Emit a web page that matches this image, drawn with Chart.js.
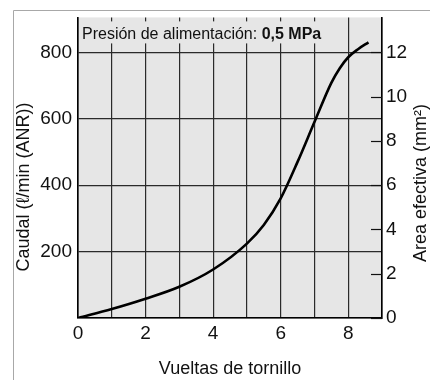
<!DOCTYPE html>
<html>
<head>
<meta charset="utf-8">
<script src="https://cdn.jsdelivr.net/npm/chart.js@4/dist/chart.umd.min.js"></script>
<style>
  html, body { margin: 0; padding: 0; background: #fff; }
  #wrap { width: 430px; height: 380px; position: relative; }
</style>
</head>
<body>
<div id="wrap"><canvas id="myChart"></canvas></div>
<script>
// Screw turns vs flow
const turns = [0, 1, 2, 3, 4, 5, 5.5, 6, 6.5, 7, 7.5, 7.75, 8, 8.3, 8.6]
const flow = [0, 27, 58, 94, 146, 224, 280, 360, 470, 590, 708, 752, 785, 810, 830]

const xMax = 9
const yMax = 905
// right axis: 12 mm2 lines up with 800 l/min
const areaPerFlow = 12 / 800

const xTitle = 'Vueltas de tornillo'
const yTitle = 'Caudal (ℓ/min (ANR))'
const y2Title = 'Area efectiva (mm²)'
const noteText = 'Presión de alimentación: '
const noteBold = '0,5 MPa'

const fontFamily = '"Liberation Sans", Arial, Helvetica, sans-serif'
const plotBg = '#e6e6e6'
const gridColor = '#2a2a2a'
const inkColor = '#111'

const points = turns.map((t, i) => ({ x: t, y: flow[i] }))

const decoPlugin = {
  id: 'deco',
  beforeDraw(chart) {
    const { ctx, chartArea: a } = chart
    ctx.save()
    ctx.fillStyle = plotBg
    ctx.fillRect(a.left, a.top, a.right - a.left, a.bottom - a.top)
    ctx.restore()
  },
  afterDatasetsDraw(chart) {
    const { ctx, chartArea: a, scales } = chart
    ctx.save()
    // note box over the grid
    ctx.fillStyle = plotBg
    ctx.fillRect(a.left + 1, a.top + 4, 246, 22)
    ctx.fillStyle = inkColor
    ctx.textBaseline = 'alphabetic'
    ctx.font = '16px ' + fontFamily
    ctx.fillText(noteText, a.left + 4, a.top + 22)
    const w = ctx.measureText(noteText).width
    ctx.font = 'bold 16px ' + fontFamily
    ctx.fillText(noteBold, a.left + 4 + w, a.top + 22)

    // inward ticks of the right axis
    const y2 = scales.y2
    ctx.strokeStyle = inkColor
    ctx.lineWidth = 1.2
    y2.ticks.forEach(t => {
      const py = Math.round(y2.getPixelForValue(t.value)) + 0.5
      ctx.beginPath()
      ctx.moveTo(a.right - 11, py)
      ctx.lineTo(a.right, py)
      ctx.stroke()
    })

    // vertical axis titles
    ctx.font = '18px ' + fontFamily
    ctx.textAlign = 'center'
    ctx.textBaseline = 'middle'
    ctx.save()
    ctx.translate(24, 187)
    ctx.rotate(-Math.PI / 2)
    ctx.fillText(yTitle, 0, 0)
    ctx.restore()
    ctx.save()
    ctx.translate(421, 183)
    ctx.rotate(-Math.PI / 2)
    ctx.fillText(y2Title, 0, 0)
    ctx.restore()

    // outer frame
    ctx.strokeStyle = '#a8a8a8'
    ctx.lineWidth = 1
    ctx.beginPath()
    ctx.moveTo(430, 10.5)
    ctx.lineTo(13.5, 10.5)
    ctx.lineTo(13.5, 380)
    ctx.stroke()
    ctx.restore()
  }
}

const ctx = document.getElementById('myChart').getContext('2d')
const myChart = new Chart(ctx, {
  type: 'line',
  data: {
    datasets: [{
      data: points,
      borderColor: '#000',
      borderWidth: 2.6,
      pointRadius: 0,
      fill: false,
      cubicInterpolationMode: 'monotone',
      yAxisID: 'y'
    }]
  },
  options: {
    responsive: true,
    maintainAspectRatio: false,
    animation: false,
    layout: { padding: { top: 10, left: 0, right: 0, bottom: 0 } },
    plugins: {
      legend: { display: false },
      tooltip: { enabled: false }
    },
    scales: {
      x: {
        type: 'linear',
        min: 0,
        max: xMax,
        afterFit: (s) => { s.height = 62 },
        ticks: {
          stepSize: 1,
          autoSkip: false,
          maxRotation: 0,
          padding: 4,
          color: inkColor,
          font: { family: fontFamily, size: 19 },
          callback: (v) => (v % 2 === 0 ? String(v) : '')
        },
        grid: { color: gridColor, lineWidth: 1.2, drawTicks: false },
        border: { color: '#000', width: 1.6 },
        title: {
          display: true,
          text: xTitle,
          color: inkColor,
          font: { family: fontFamily, size: 18 },
          padding: { top: 4, bottom: 0 }
        }
      },
      y: {
        type: 'linear',
        position: 'left',
        min: 0,
        max: yMax,
        afterFit: (s) => { s.width = 78 },
        ticks: {
          stepSize: 200,
          includeBounds: false,
          padding: 6,
          color: inkColor,
          font: { family: fontFamily, size: 19 },
          callback: (v) => (v === 0 ? '' : String(v))
        },
        grid: { color: gridColor, lineWidth: 1.2, drawTicks: false },
        border: { color: '#000', width: 1.6 }
      },
      y2: {
        type: 'linear',
        position: 'right',
        min: 0,
        max: yMax * areaPerFlow,
        afterFit: (s) => { s.width = 48 },
        ticks: {
          stepSize: 2,
          includeBounds: false,
          padding: 4,
          color: inkColor,
          font: { family: fontFamily, size: 19 }
        },
        grid: { drawOnChartArea: false, drawTicks: false },
        border: { color: '#000', width: 1.6 }
      }
    }
  },
  plugins: [decoPlugin]
})
</script>
</body>
</html>
